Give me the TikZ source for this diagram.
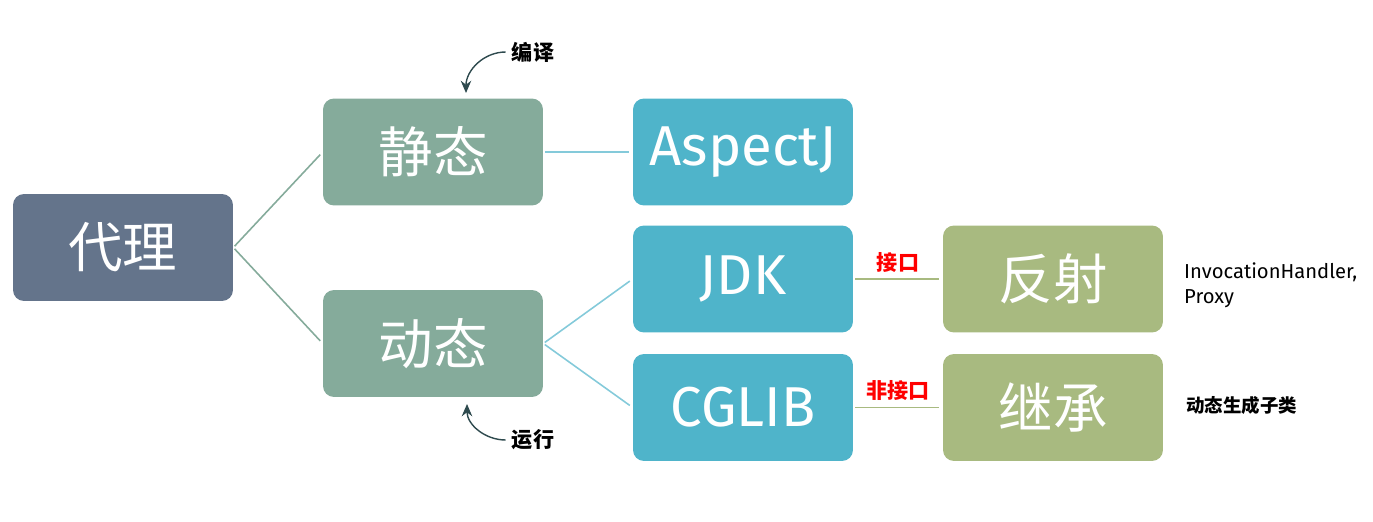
\documentclass[tikz,border=0pt]{standalone}
\usepackage{fontspec}
\setmainfont{Fira Sans}
\newfontfamily\cjk{Noto Sans CJK SC}
\usetikzlibrary{arrows.meta}
\definecolor{slate}{HTML}{64748B}
\definecolor{sage}{HTML}{85AB9B}
\definecolor{teal}{HTML}{4FB4CA}
\definecolor{olive}{HTML}{A8BA80}
\definecolor{arrowink}{HTML}{2E4A4E}
\begin{document}
\begin{tikzpicture}[x=0.02cm, y=-0.02cm,
  box/.style={rounded corners=0.22cm, minimum width=4.4cm, minimum height=2.14cm, text=white, font=\fontsize{31}{33}\selectfont\cjk},
  latin/.style={font=\fontsize{32}{34}\selectfont},
  link/.style={line width=0.9pt, shorten <=1pt, shorten >=2pt},
  note/.style={font=\fontsize{12}{14}\selectfont\bfseries\cjk},
  tag/.style={font=\fontsize{12}{14}\selectfont\bfseries\cjk, text=red}]
\useasboundingbox (0,0) rectangle (1373,521);

\node (proxy) [box, fill=slate] at (123,247.5) {代理};
\node (static) [box, fill=sage] at (433,152) {静态};
\node (dynamic) [box, fill=sage] at (433,343.5) {动态};
\node (aspectj) [box, latin, fill=teal] at (743,152) {AspectJ};
\node (jdk) [box, latin, fill=teal] at (743,279) {JDK};
\node (cglib) [box, latin, fill=teal] at (743,407.5) {CGLIB};
\node (reflect) [box, fill=olive] at (1053,279) {反射};
\node (inherit) [box, fill=olive] at (1053,407.5) {继承};

\draw [link, sage] (proxy.east) -- (static.west);
\draw [link, sage] (proxy.east) -- (dynamic.west);
\draw [link, teal!70] (static.east) -- (aspectj.west);
\draw [link, teal!70] (dynamic.east) -- (jdk.west);
\draw [link, teal!70] (dynamic.east) -- (cglib.west);
\draw [link, olive] (jdk.east) -- node [tag, above] {接口} (reflect.west);
\draw [link, olive] (cglib.east) -- node [tag, above] {非接口} (inherit.west);

\node (compile) [note] at (533,52) {编译};
\node (run) [note] at (533,440) {运行};
\coordinate (compile-tip) at (466,93);
\coordinate (run-tip) at (467,404);
\draw [-{Stealth[length=7pt, width=6pt]}, arrowink, thick] (compile.west) to [out=180, in=90] (compile-tip);
\draw [-{Stealth[length=7pt, width=6pt]}, arrowink, thick] (run.west) to [out=180, in=-90] (run-tip);

\node (jdk-api) [align=left, anchor=north west, font=\fontsize{11.5}{14}\selectfont] at (1178,257) {InvocationHandler,\\Proxy};
\node (cglib-api) [note, anchor=west, font=\fontsize{10.5}{12}\selectfont\bfseries\cjk] at (1180,405) {动态生成子类};
\end{tikzpicture}
\end{document}
